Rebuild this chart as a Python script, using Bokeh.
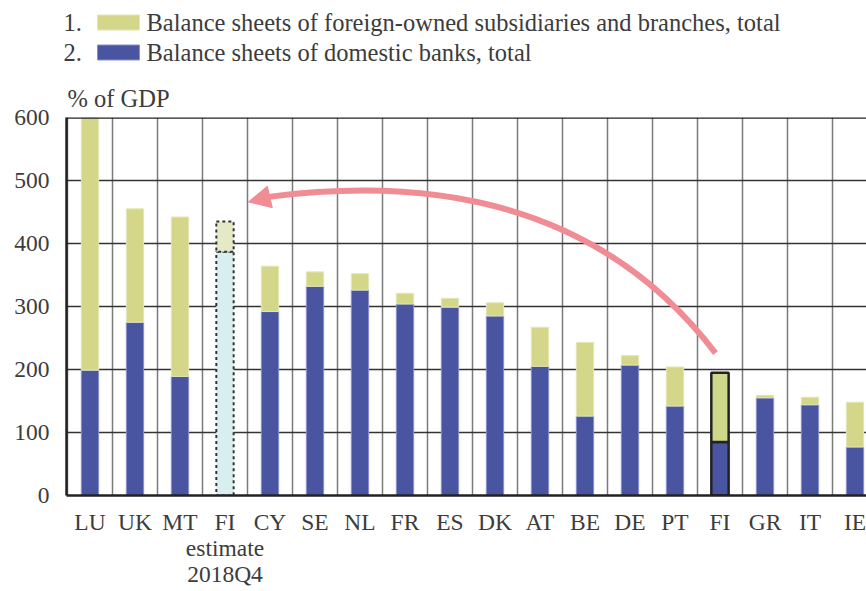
from bokeh.plotting import figure
from bokeh.layouts import column
from bokeh.models import (Range1d, FixedTicker, Span, Arrow, NormalHead, ColumnDataSource,
                          Title)
from bokeh.core.properties import value
from bokeh.embed import file_html
from bokeh.resources import INLINE

categories = ["LU", "UK", "MT", "FI", "CY", "SE", "NL", "FR", "ES", "DK",
              "AT", "BE", "DE", "PT", "FI", "GR", "IT", "IE"]
domestic = [199, 275, 189, 387, 292, 332, 326, 304, 299, 285,
            205, 126, 207, 142, 85, 155, 144, 77]
total = [600, 455, 442, 435, 364, 355, 352, 321, 313, 306,
         267, 243, 222, 204, 195, 159, 156, 148]
legend_labels = ["Balance sheets of foreign-owned subsidiaries and branches, total",
                 "Balance sheets of domestic banks, total"]
legend_numbers = ["1.", "2."]
y_ticks = [0, 100, 200, 300, 400, 500, 600]
estimate_idx = 3
estimate_note = "estimate\n2018Q4"
fi_idx = 14

FONT = "Liberation Serif"
TXT = "#3c3c3c"
BLUE = "#4a55a2"
YEL = "#d4d78a"
PINK = "#f08c94"
W_PX = 866
TOP_H = 72

# ---------- legend strip (pixel-based layout) ----------
top = figure(width=W_PX, height=TOP_H, output_backend="svg", toolbar_location=None,
             x_range=Range1d(0, W_PX), y_range=Range1d(TOP_H, 0),
             min_border=0)
top.axis.visible = False
top.grid.visible = False
top.outline_line_color = None
row_y = [22, 52]
sw_col = [YEL, BLUE]
sw_line = ["#e4e6b6", "#8a90cc"]
top.quad(left=[97, 97], right=[139, 139], top=[y - 7.5 for y in row_y],
         bottom=[y + 7.5 for y in row_y], fill_color=sw_col, line_color=sw_line,
         line_width=1)
top.text(x=[63, 63], y=row_y, text=legend_numbers, text_font=value(FONT),
         text_font_size=value("24.5px"), text_color=TXT, text_baseline="middle")
top.text(x=[146, 146], y=row_y, text=legend_labels, text_font=value(FONT),
         text_font_size=value("24.5px"), text_color=TXT, text_baseline="middle")

# ---------- main chart ----------
p = figure(frame_width=W_PX - 66, frame_height=378, output_backend="svg",
           toolbar_location=None,
           x_range=Range1d(-0.522, 17.256), y_range=Range1d(0, 600),
           min_border_left=66, min_border_right=0, min_border_top=117 - TOP_H,
           min_border_bottom=0)
p.outline_line_color = None
p.add_layout(Title(text="% of GDP", text_font=FONT, text_font_size="24.5px",
                   text_color=TXT, text_font_style="normal", align="left",
                   offset=1, standoff=12), "above")

for fig in (top, p):
    try:
        fig.frame_align = False
    except Exception:
        pass

idx = list(range(len(categories)))
normal = [i for i in idx if i not in (estimate_idx, fi_idx)]
src = ColumnDataSource(dict(x=normal,
                            dom=[domestic[i] for i in normal],
                            tot=[total[i] for i in normal]))
W = 0.385
p.vbar(x="x", bottom=0, top="dom", width=W, source=src, fill_color=BLUE,
       line_color="#8a90cc", line_width=1)
p.vbar(x="x", bottom="dom", top="tot", width=W, source=src, fill_color=YEL,
       line_color="#e4e6b6", line_width=1)

# FI estimate (dashed outline)
p.vbar(x=[estimate_idx], bottom=[0], top=[domestic[estimate_idx]], width=W,
       fill_color="#d8eef0", line_color="#333333", line_width=2, line_dash="3 3")
p.vbar(x=[estimate_idx], bottom=[domestic[estimate_idx]], top=[total[estimate_idx]],
       width=W, fill_color="#e5e9c6", line_color="#333333", line_width=2, line_dash="3 3")

# FI actual (solid outline)
p.vbar(x=[fi_idx], bottom=[0], top=[domestic[fi_idx]], width=W,
       fill_color=BLUE, line_color="#222222", line_width=2.5)
p.vbar(x=[fi_idx], bottom=[domestic[fi_idx]], top=[total[fi_idx]], width=W,
       fill_color="#cfd88a", line_color="#222222", line_width=2.5)

# grids
p.xgrid.ticker = FixedTicker(ticks=[i + 0.5 for i in range(-1, len(categories))])
p.xgrid.grid_line_color = "#7a7a7a"
p.xgrid.grid_line_width = 1.5
p.ygrid.ticker = FixedTicker(ticks=y_ticks[1:-1])
p.ygrid.grid_line_color = "#333333"
p.ygrid.grid_line_width = 1.5
p.add_layout(Span(location=y_ticks[-1], dimension="width", line_color="#222222",
                  line_width=2.5))

# axes
labels = {i: c for i, c in enumerate(categories)}
labels[estimate_idx] = categories[estimate_idx] + "\n" + estimate_note
p.xaxis.ticker = FixedTicker(ticks=idx)
p.xaxis.major_label_overrides = labels
p.yaxis.ticker = FixedTicker(ticks=y_ticks)
for ax in (p.xaxis[0], p.yaxis[0]):
    ax.major_tick_line_color = None
    ax.minor_tick_line_color = None
    ax.axis_line_color = "#222222"
    ax.axis_line_width = 2.5
    ax.major_label_text_font = FONT
    ax.major_label_text_font_size = "23.5px"
    ax.major_label_text_color = TXT
p.xaxis.major_label_standoff = 7
p.xaxis.major_label_text_line_height = 1.0
p.yaxis.major_label_standoff = 11

# curved arrow (FI now -> FI estimate)
p.quadratic(x0=[13.9], y0=[226], x1=[3.97], y1=[474], cx=[10.6], cy=[535],
            line_color=PINK, line_width=6)
p.add_layout(Arrow(end=NormalHead(size=22, fill_color=PINK, line_color=PINK),
                   x_start=4.3, y_start=479, x_end=3.52, y_end=466,
                   line_alpha=0))

layout = column(top, p, spacing=0)
open("out.html", "w").write(file_html(layout, INLINE))
